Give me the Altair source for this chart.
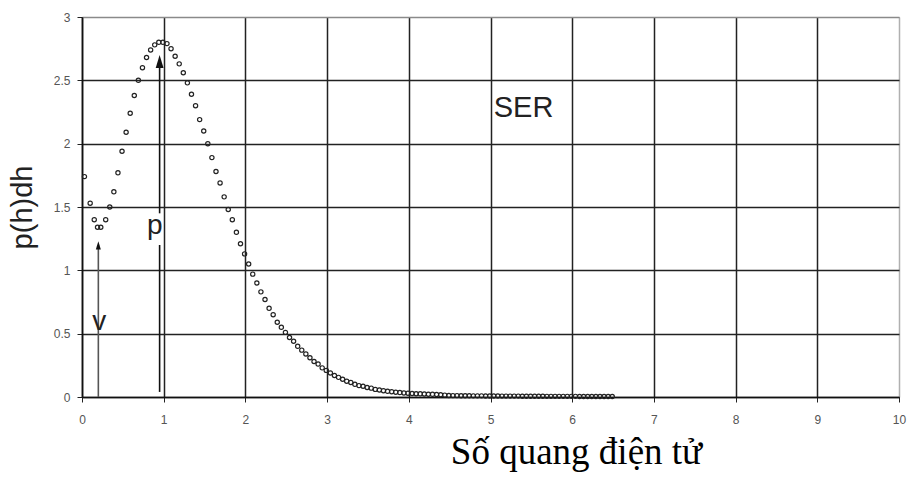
import altair as alt
import pandas as pd

# Single-electron response (SER) spectrum
x_vals = [
    0.03, 0.10, 0.15, 0.19, 0.23, 0.29, 0.34, 0.39, 0.44, 0.49,
    0.54, 0.59, 0.64, 0.69, 0.74, 0.79, 0.84, 0.89, 0.94, 0.99,
    1.04, 1.09, 1.14, 1.19, 1.24, 1.29, 1.34, 1.39, 1.44, 1.49,
    1.54, 1.59, 1.64, 1.69, 1.74, 1.79, 1.84, 1.89, 1.94, 1.99,
    2.04, 2.09, 2.14, 2.19, 2.24, 2.29, 2.34, 2.39, 2.44, 2.49,
    2.54, 2.59, 2.64, 2.69, 2.74, 2.79, 2.84, 2.89, 2.94, 2.99,
    3.04, 3.09, 3.14, 3.19, 3.24, 3.29, 3.34, 3.39, 3.44, 3.49,
    3.54, 3.59, 3.64, 3.69, 3.74, 3.79, 3.84, 3.89, 3.94, 3.99,
    4.04, 4.09, 4.14, 4.19, 4.24, 4.29, 4.34, 4.39, 4.44, 4.49,
    4.54, 4.59, 4.64, 4.69, 4.74, 4.79, 4.84, 4.89, 4.94, 4.99,
    5.04, 5.09, 5.14, 5.19, 5.24, 5.29, 5.34, 5.39, 5.44, 5.49,
    5.54, 5.59, 5.64, 5.69, 5.74, 5.79, 5.84, 5.89, 5.94, 5.99,
    6.04, 6.09, 6.14, 6.19, 6.24, 6.29, 6.34, 6.39, 6.44, 6.49,
]
y_vals = [
    1.74, 1.53, 1.40, 1.34, 1.34, 1.40, 1.50, 1.62, 1.77, 1.94,
    2.09, 2.24, 2.38, 2.50, 2.60, 2.68, 2.74, 2.78, 2.80, 2.80,
    2.79, 2.75, 2.69, 2.63, 2.56, 2.48, 2.39, 2.30, 2.19, 2.10,
    2.00, 1.89, 1.78, 1.69, 1.58, 1.48, 1.40, 1.30, 1.21, 1.13,
    1.05, 0.97, 0.90, 0.83, 0.77, 0.70, 0.65, 0.59, 0.55, 0.51,
    0.47, 0.44, 0.40, 0.37, 0.34, 0.31, 0.28, 0.26, 0.23, 0.21,
    0.19, 0.17, 0.155, 0.14, 0.125, 0.115, 0.10, 0.09, 0.085, 0.075,
    0.07, 0.06, 0.055, 0.05, 0.045, 0.042, 0.038, 0.035, 0.032, 0.03,
    0.028, 0.026, 0.025, 0.024, 0.022, 0.021, 0.02, 0.018, 0.015, 0.012,
    0.011, 0.011, 0.010, 0.010, 0.010, 0.009, 0.009, 0.009, 0.008, 0.008,
    0.008, 0.008, 0.007, 0.007, 0.007, 0.007, 0.007, 0.006, 0.006, 0.006,
    0.006, 0.006, 0.006, 0.005, 0.005, 0.005, 0.005, 0.005, 0.005, 0.005,
    0.005, 0.004, 0.004, 0.004, 0.004, 0.004, 0.004, 0.004, 0.004, 0.004,
]

x_ticks = [0, 1, 2, 3, 4, 5, 6, 7, 8, 9, 10]
y_ticks = [0, 0.5, 1, 1.5, 2, 2.5, 3]

# valley (v) and peak (p) arrows
arrow_x = [0.20, 0.95, 0.95]
arrow_y = [0.0, 0.04, 1.45]
arrow_y2 = [1.20, 1.20, 2.62]
arrow_col = ["#555555", "#111111", "#111111"]
head_x = [0.20, 0.95]
head_y = [1.23, 2.70]
head_size = [70, 170]

label_text = ["v", "p"]
label_x = [0.21, 0.89]
label_y = [0.53, 1.29]
ser_text = ["SER"]
ser_x = [5.04]
ser_y = [2.21]

pts = pd.DataFrame({"x": x_vals, "y": y_vals})
rules = pd.DataFrame({"x": arrow_x, "y": arrow_y, "y2": arrow_y2, "c": arrow_col})
heads = pd.DataFrame({"x": head_x, "y": head_y, "s": head_size})
labels = pd.DataFrame({"x": label_x, "y": label_y, "t": label_text})
ser = pd.DataFrame({"x": ser_x, "y": ser_y, "t": ser_text})

xscale = alt.Scale(domain=[0, 10], nice=False, zero=False)
yscale = alt.Scale(domain=[0, 3], nice=False, zero=False)

x_axis = alt.Axis(
    values=x_ticks, format="~g", grid=True, ticks=True, tickSize=5, tickColor="#222",
    gridColor={"condition": {"test": "datum.value === 10", "value": "#b0b0b0"}, "value": "#222222"},
    gridWidth=1.5, domainColor="#111", domainWidth=1.6,
    labelFont="Liberation Sans", labelFontSize=12, labelColor="#555",
    labelPadding=12, labelFlush=False,
    title="Số quang điện tử", titleFont="Liberation Serif", titleFontSize=37,
    titleFontWeight="normal", titleColor="#000",
    titleX=494, titleY=55, titleAlign="center", titleBaseline="middle", titleAngle=0,
)
y_axis = alt.Axis(
    values=y_ticks, format="~g", grid=True, ticks=True, tickSize=5, tickColor="#222",
    gridColor={"condition": {"test": "datum.value === 3", "value": "#8a8a8a"}, "value": "#222222"},
    gridWidth=1.5, domainColor="#111", domainWidth=1.6,
    labelFont="Liberation Sans", labelFontSize=12, labelColor="#555",
    labelPadding=7, labelFlush=False,
    title="p(h)dh", titleFont="Liberation Sans", titleFontSize=29,
    titleFontWeight="normal", titleColor="#222",
    titleX=-60, titleY=190, titleAlign="center", titleBaseline="middle", titleAngle=270,
)

points = alt.Chart(pts).mark_point(
    shape="circle", filled=False, size=18, strokeWidth=1.2, color="#222", opacity=1
).encode(
    x=alt.X("x:Q", scale=xscale, axis=x_axis),
    y=alt.Y("y:Q", scale=yscale, axis=y_axis),
)

arrow_lines = alt.Chart(rules).mark_rule(strokeWidth=1.6).encode(
    x=alt.X("x:Q", scale=xscale),
    y=alt.Y("y:Q", scale=yscale),
    y2="y2:Q",
    color=alt.Color("c:N", scale=None),
)

arrow_heads = alt.Chart(heads).mark_point(
    shape="M0,0L-0.6,2L0.6,2Z", filled=True, color="#111", opacity=1, strokeWidth=0
).encode(
    x=alt.X("x:Q", scale=xscale),
    y=alt.Y("y:Q", scale=yscale),
    size=alt.Size("s:Q", scale=None),
)

letters = alt.Chart(labels).mark_text(
    font="Liberation Sans", fontSize=28, color="#222", align="center", baseline="alphabetic"
).encode(
    x=alt.X("x:Q", scale=xscale),
    y=alt.Y("y:Q", scale=yscale),
    text="t:N",
)

ser_label = alt.Chart(ser).mark_text(
    font="Liberation Sans", fontSize=29, color="#222", align="left", baseline="alphabetic"
).encode(
    x=alt.X("x:Q", scale=xscale),
    y=alt.Y("y:Q", scale=yscale),
    text="t:N",
)

chart = alt.layer(points, arrow_lines, arrow_heads, letters, ser_label).properties(
    width=817, height=380,
    autosize=alt.AutoSizeParams(type="none"),
    padding={"left": 82, "top": 17, "right": 9, "bottom": 84},
    background="white",
).configure_view(stroke="#b0b0b0", strokeWidth=1)

chart.save("out.html", embed_options={"renderer": "svg", "actions": False})
